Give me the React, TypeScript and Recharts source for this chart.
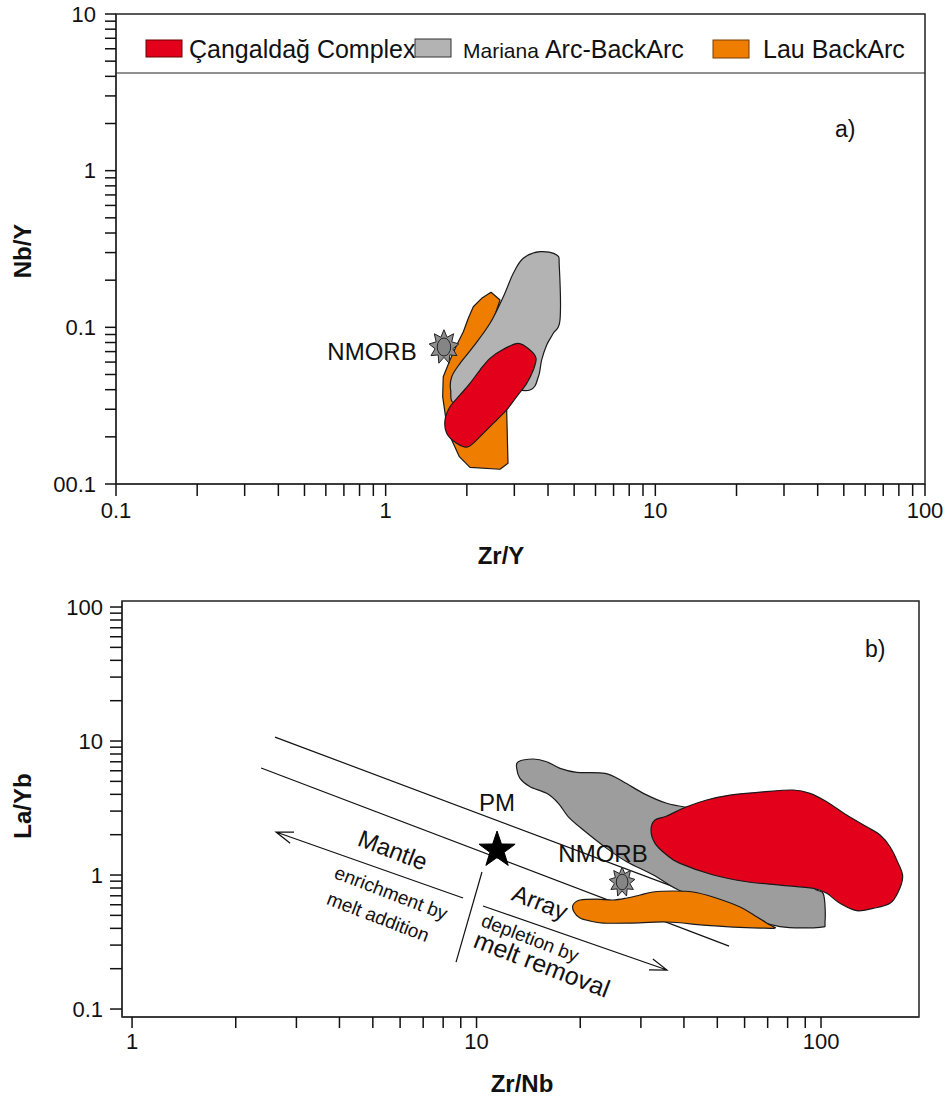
import React from 'react';
import { ComposedChart, Scatter, XAxis, YAxis, ReferenceLine, ReferenceArea } from 'recharts';

const FONT = '"Liberation Sans", Arial, Helvetica, sans-serif';

// ---------- legend / series ----------
const seriesNames = ['Çangaldağ Complex', 'Mariana Arc-BackArc', 'Lau BackArc'];
const fillA = ['#e2001a', '#b3b3b4', '#ef7d00'];
const fillB = ['#e2001a', '#9d9d9e', '#ef7d00'];

// ---------- panel a axes ----------
const aXDomain = [0.1, 100];
const aYDomain = [0.01, 10];
const aXTicks = [0.1, 0.2, 0.3, 0.4, 0.5, 0.6, 0.7, 0.8, 0.9, 1, 2, 3, 4, 5, 6, 7, 8, 9, 10, 20, 30, 40, 50, 60, 70, 80, 90, 100];
const aXMajor = [0.1, 1, 10, 100];
const aXLabels = ['0.1', '1', '10', '100'];
const aYTicks = [0.01, 0.02, 0.03, 0.04, 0.05, 0.06, 0.07, 0.08, 0.09, 0.1, 0.2, 0.3, 0.4, 0.5, 0.6, 0.7, 0.8, 0.9, 1, 2, 3, 4, 5, 6, 7, 8, 9, 10];
const aYMajor = [0.01, 0.1, 1, 10];
const aYLabels = ['00.1', '0.1', '1', '10'];
const legendDividerY = 4.2;

// ---------- panel a fields (Zr/Y, Nb/Y) ----------
const lauA: [number, number][] = [
  [2.459, 0.1674], [2.655, 0.1494], [2.369, 0.083], [2.81, 0.02968], [2.842, 0.01355], [2.655, 0.01242],
  [2.054, 0.01278], [1.876, 0.01494], [1.758, 0.0191], [1.674, 0.02563], [1.627, 0.0361], [1.635, 0.0484],
  [1.732, 0.0619], [1.834, 0.0771], [1.941, 0.0938], [2.025, 0.1142], [2.113, 0.1354], [2.27, 0.1532],
];
const marianaA: [number, number][] = [
  [3.736, 0.304], [4.307, 0.2895], [4.405, 0.2438], [4.431, 0.1114], [4.183, 0.0916], [3.955, 0.0771],
  [3.789, 0.0619], [3.683, 0.0484], [3.429, 0.0398], [2.655, 0.0398], [1.834, 0.0327], [1.742, 0.0398],
  [1.758, 0.0484], [1.887, 0.0589], [2.113, 0.0752], [2.437, 0.1061], [2.731, 0.1569], [2.974, 0.2213],
  [3.238, 0.2759],
];
const cangA: [number, number][] = [
  [3.103, 0.0791], [3.429, 0.0717], [3.611, 0.0634], [3.527, 0.0534], [3.334, 0.0439], [3.061, 0.0361],
  [2.81, 0.02968], [2.581, 0.02563], [2.302, 0.02107], [2.025, 0.0173], [1.834, 0.01819], [1.684, 0.02107],
  [1.66, 0.02563], [1.732, 0.0311], [1.887, 0.037], [2.054, 0.0439], [2.237, 0.0534], [2.437, 0.0634],
  [2.731, 0.0724],
];
const nmorbA = [{ x: 1.645, y: 0.0749 }];
const annotA = [{ text: 'NMORB', x: 0.89, y: 0.0696 }];

// ---------- panel b axes ----------
const bXDomain = [0.935, 192.5];
const bYDomain = [0.0872, 110.9];
const bXTicks = [1, 2, 3, 4, 5, 6, 7, 8, 9, 10, 20, 30, 40, 50, 60, 70, 80, 90, 100];
const bXMajor = [1, 10, 100];
const bXLabels = ['1', '10', '100'];
const bYTicks = [0.1, 0.2, 0.3, 0.4, 0.5, 0.6, 0.7, 0.8, 0.9, 1, 2, 3, 4, 5, 6, 7, 8, 9, 10, 20, 30, 40, 50, 60, 70, 80, 90, 100];
const bYMajor = [0.1, 1, 10, 100];
const bYLabels = ['0.1', '1', '10', '100'];

// ---------- panel b fields (Zr/Nb, La/Yb) ----------
const marianaB: [number, number][] = [
  [13.22, 7.01], [14.62, 7.34], [15.98, 7.01], [17.47, 6.25], [19.54, 5.84], [23.61, 5.74], [26.68, 4.97],
  [30.5, 4.07], [35.66, 3.43], [42.59, 3.14], [60.84, 2.72], [85.03, 1.537], [95.0, 0.818], [101.6, 0.721],
  [102.7, 0.448], [99.3, 0.407], [76.0, 0.412], [60.84, 0.489], [48.69, 0.651], [38.97, 0.764], [32.61, 1.0],
  [27.29, 1.257], [23.88, 1.581], [20.42, 2.167], [18.47, 2.72], [17.28, 3.43], [15.98, 4.07], [14.3, 4.56],
  [13.37, 5.27], [13.08, 6.25],
];
const lauB: [number, number][] = [
  [19.06, 0.597], [19.97, 0.651], [22.38, 0.662], [24.9, 0.651], [27.35, 0.674], [29.83, 0.709], [32.54, 0.747],
  [37.19, 0.76], [42.5, 0.747], [48.59, 0.685], [58.21, 0.577], [65.21, 0.486], [71.12, 0.423], [73.5, 0.402],
  [66.5, 0.402], [55.54, 0.409], [45.45, 0.423], [35.73, 0.446], [27.9, 0.438], [23.29, 0.438], [21.35, 0.454],
  [19.97, 0.478], [19.19, 0.53],
];
const cangB: [number, number][] = [
  [32.1, 2.167], [32.97, 2.573], [35.66, 2.756], [40.74, 3.23], [46.58, 3.63], [54.42, 3.95], [68.0, 4.18],
  [83.1, 4.31], [92.9, 4.07], [103.9, 3.52], [118.7, 2.8], [135.7, 2.29], [148.4, 1.99], [158.6, 1.627],
  [167.6, 1.222], [172.6, 0.972], [167.6, 0.751], [158.6, 0.615], [141.8, 0.564], [126.9, 0.542], [113.5, 0.615],
  [103.9, 0.73], [95.0, 0.796], [76.0, 0.842], [60.84, 0.891], [48.69, 1.0], [38.97, 1.222], [35.66, 1.41],
  [32.97, 1.723],
];
const mantleUpper: [number, number][] = [[2.6, 10.7], [44.5, 0.69]];
const mantleLower: [number, number][] = [[2.37, 6.29], [54.1, 0.295]];
const dividerLine: [number, number][] = [[10.37, 1.053], [8.72, 0.224]];
const arrowEnrich: [number, number][] = [[9.14, 0.674], [2.618, 2.094]];
const arrowDeplete: [number, number][] = [[10.44, 0.587], [35.73, 0.1954]];
const pmB = [{ x: 11.47, y: 1.59 }];
const nmorbB = [{ x: 26.46, y: 0.887 }];
const annotB = [
  { text: 'PM', x: 11.47, y: 3.45 },
  { text: 'NMORB', x: 23.29, y: 1.46 },
  { text: 'Mantle', x: 5.72, y: 1.537 },
  { text: 'Array', x: 15.29, y: 0.629 },
  { text: 'enrichment by', x: 5.65, y: 0.734 },
  { text: 'melt addition', x: 5.18, y: 0.486 },
  { text: 'depletion by', x: 14.3, y: 0.339 },
  { text: 'melt removal', x: 15.49, y: 0.217 },
];
const annotStyle: Record<string, { size: number; rot: number }> = {
  PM: { size: 24, rot: 0 },
  NMORB: { size: 24, rot: 0 },
  Mantle: { size: 24, rot: 21 },
  Array: { size: 24, rot: 21 },
  'enrichment by': { size: 19, rot: 21 },
  'melt addition': { size: 19, rot: 21 },
  'depletion by': { size: 19, rot: 21 },
  'melt removal': { size: 25, rot: 21 },
};

// ---------- helpers ----------
const toPts = (arr: [number, number][]) => arr.map(([x, y]) => ({ x, y }));

function closedSpline(pts: { x: number; y: number }[]) {
  const n = pts.length;
  let d = `M${pts[0].x},${pts[0].y}`;
  for (let i = 0; i < n; i++) {
    const p0 = pts[(i - 1 + n) % n];
    const p1 = pts[i];
    const p2 = pts[(i + 1) % n];
    const p3 = pts[(i + 2) % n];
    const c1x = p1.x + (p2.x - p0.x) / 6;
    const c1y = p1.y + (p2.y - p0.y) / 6;
    const c2x = p2.x - (p3.x - p1.x) / 6;
    const c2y = p2.y - (p3.y - p1.y) / 6;
    d += `C${c1x},${c1y} ${c2x},${c2y} ${p2.x},${p2.y}`;
  }
  return d + 'Z';
}

const polyLine = (fill: string, smooth: boolean) => (props: any) => {
  const pts = (props.points || []).filter((p: any) => p && isFinite(p.x) && isFinite(p.y));
  if (pts.length < 3) return <g />;
  const d = smooth ? closedSpline(pts) : 'M' + pts.map((p: any) => `${p.x},${p.y}`).join('L') + 'Z';
  return <path d={d} fill={fill} stroke="#1a1a1a" strokeWidth={1.2} strokeLinejoin="round" />;
};

const plainLine = (props: any) => {
  const pts = props.points || [];
  if (pts.length < 2) return <g />;
  return <path d={`M${pts[0].x},${pts[0].y}L${pts[1].x},${pts[1].y}`} stroke="#111" strokeWidth={1.2} fill="none" />;
};

const arrowLine = (props: any) => {
  const pts = props.points || [];
  if (pts.length < 2) return <g />;
  const a = pts[0];
  const b = pts[1];
  const ang = Math.atan2(b.y - a.y, b.x - a.x);
  const L = 18;
  const s = 0.33;
  const h1x = b.x - L * Math.cos(ang - s);
  const h1y = b.y - L * Math.sin(ang - s);
  const h2x = b.x - L * Math.cos(ang + s);
  const h2y = b.y - L * Math.sin(ang + s);
  return (
    <path
      d={`M${a.x},${a.y}L${b.x},${b.y}M${h1x},${h1y}L${b.x},${b.y}L${h2x},${h2y}`}
      stroke="#111"
      strokeWidth={1.2}
      fill="none"
    />
  );
};

const noShape = () => <g />;

function starPts(cx: number, cy: number, n: number, ro: number, ri: number, sy = 1) {
  const out: string[] = [];
  for (let i = 0; i < 2 * n; i++) {
    const r = i % 2 === 0 ? ro : ri;
    const a = -Math.PI / 2 + (i * Math.PI) / n;
    out.push(`${cx + r * Math.cos(a)},${cy + r * Math.sin(a) * sy}`);
  }
  return out.join(' ');
}

const nmorbShape = (ro: number) => (p: any) => {
  const { cx, cy } = p;
  if (!isFinite(cx) || !isFinite(cy)) return <g />;
  return (
    <g>
      <polygon points={starPts(cx, cy, 9, ro, ro * 0.6, 1.15)} fill="#8f8f8f" stroke="#222" strokeWidth={1} />
      <ellipse cx={cx} cy={cy} rx={ro * 0.45} ry={ro * 0.6} fill="#858585" stroke="#222" strokeWidth={1} />
    </g>
  );
};

const pmShape = (p: any) => {
  const { cx, cy } = p;
  if (!isFinite(cx) || !isFinite(cy)) return <g />;
  return <polygon points={starPts(cx, cy + 2, 5, 19, 7.5)} fill="#000" stroke="#000" strokeWidth={1} />;
};

const textShape = (p: any) => {
  const { cx, cy, payload } = p;
  if (!isFinite(cx) || !isFinite(cy)) return <g />;
  const st = annotStyle[payload.text] || { size: 24, rot: 0 };
  return (
    <text
      x={cx}
      y={cy}
      textAnchor="middle"
      dominantBaseline="central"
      fontSize={st.size}
      fontFamily={FONT}
      fill="#111"
      transform={st.rot ? `rotate(${st.rot},${cx},${cy})` : undefined}
    >
      {payload.text}
    </text>
  );
};

const isMajor = (major: number[], v: number) => major.findIndex((m) => Math.abs(m - v) / m < 1e-6);

const makeXTick = (major: number[], labels: string[]) => (props: any) => {
  const { x, y, payload } = props;
  const i = isMajor(major, payload.value);
  if (i < 0) return <g />;
  return (
    <text x={x} y={y} dy="0.71em" textAnchor="middle" fontSize={22} fontFamily={FONT} fill="#111">
      {labels[i]}
    </text>
  );
};

const makeYTick = (major: number[], labels: string[]) => (props: any) => {
  const { x, y, payload } = props;
  const i = isMajor(major, payload.value);
  if (i < 0) return <g />;
  return (
    <text x={x} y={y} dy="0.355em" textAnchor="end" fontSize={22} fontFamily={FONT} fill="#111">
      {labels[i]}
    </text>
  );
};

const axisStyle = { stroke: '#333', strokeWidth: 1.5 };
const tickStyle = { stroke: '#111', strokeWidth: 1.5 };

export default function App() {
  return (
    <div style={{ position: 'absolute', left: 0, top: 0, width: 949, height: 1097, background: '#fff', fontFamily: FONT }}>
      <div style={{ position: 'absolute', left: 0, top: 0 }}>
        <ComposedChart width={949} height={560} margin={{ top: 14, right: 24, bottom: 36, left: 0 }}>
          <XAxis
            type="number"
            dataKey="x"
            scale="log"
            domain={aXDomain}
            allowDataOverflow
            ticks={aXTicks}
            interval={0}
            tick={makeXTick(aXMajor, aXLabels)}
            tickSize={12}
            tickMargin={6}
            height={40}
            axisLine={axisStyle}
            tickLine={tickStyle}
          />
          <YAxis
            type="number"
            dataKey="y"
            scale="log"
            domain={aYDomain}
            allowDataOverflow
            ticks={aYTicks}
            interval={0}
            tick={makeYTick(aYMajor, aYLabels)}
            tickSize={11}
            tickMargin={9}
            width={116}
            axisLine={axisStyle}
            tickLine={tickStyle}
          />
          <ReferenceArea x1={aXDomain[0]} x2={aXDomain[1]} y1={aYDomain[0]} y2={aYDomain[1]} fill="none" stroke="#222" strokeWidth={1.5} ifOverflow="visible" />
          <ReferenceLine y={legendDividerY} stroke="#222" strokeWidth={1.2} />
          <Scatter data={toPts(lauA)} line={polyLine(fillA[2], false)} shape={noShape} isAnimationActive={false} />
          <Scatter data={toPts(marianaA)} line={polyLine(fillA[1], true)} shape={noShape} isAnimationActive={false} />
          <Scatter data={toPts(cangA)} line={polyLine(fillA[0], true)} shape={noShape} isAnimationActive={false} />
          <Scatter data={nmorbA} shape={nmorbShape(15)} isAnimationActive={false} />
          <Scatter data={annotA} shape={textShape} isAnimationActive={false} />
        </ComposedChart>
      </div>

      <div style={{ position: 'absolute', left: 0, top: 560 }}>
        <ComposedChart width={949} height={537} margin={{ top: 41, right: 30, bottom: 40, left: 0 }}>
          <XAxis
            type="number"
            dataKey="x"
            scale="log"
            domain={bXDomain}
            allowDataOverflow
            ticks={bXTicks}
            interval={0}
            tick={makeXTick(bXMajor, bXLabels)}
            tickSize={11}
            tickMargin={5}
            height={40}
            axisLine={axisStyle}
            tickLine={tickStyle}
          />
          <YAxis
            type="number"
            dataKey="y"
            scale="log"
            domain={bYDomain}
            allowDataOverflow
            ticks={bYTicks}
            interval={0}
            tick={makeYTick(bYMajor, bYLabels)}
            tickSize={12}
            tickMargin={7}
            width={122}
            axisLine={axisStyle}
            tickLine={tickStyle}
          />
          <ReferenceArea x1={bXDomain[0]} x2={bXDomain[1]} y1={bYDomain[0]} y2={bYDomain[1]} fill="none" stroke="#222" strokeWidth={1.5} ifOverflow="visible" />
          <Scatter data={toPts(mantleUpper)} line={plainLine} shape={noShape} isAnimationActive={false} />
          <Scatter data={toPts(mantleLower)} line={plainLine} shape={noShape} isAnimationActive={false} />
          <Scatter data={toPts(dividerLine)} line={plainLine} shape={noShape} isAnimationActive={false} />
          <Scatter data={toPts(arrowEnrich)} line={arrowLine} shape={noShape} isAnimationActive={false} />
          <Scatter data={toPts(arrowDeplete)} line={arrowLine} shape={noShape} isAnimationActive={false} />
          <Scatter data={toPts(marianaB)} line={polyLine(fillB[1], true)} shape={noShape} isAnimationActive={false} />
          <Scatter data={toPts(lauB)} line={polyLine(fillB[2], true)} shape={noShape} isAnimationActive={false} />
          <Scatter data={toPts(cangB)} line={polyLine(fillB[0], true)} shape={noShape} isAnimationActive={false} />
          <Scatter data={annotB} shape={textShape} isAnimationActive={false} />
          <Scatter data={pmB} shape={pmShape} isAnimationActive={false} />
          <Scatter data={nmorbB} shape={nmorbShape(13)} isAnimationActive={false} />
        </ComposedChart>
      </div>

      <svg width={949} height={1097} style={{ position: 'absolute', left: 0, top: 0, pointerEvents: 'none' }}>
        {/* legend */}
        <rect x={146} y={40} width={36} height={17} fill={fillA[0]} stroke="#6b0000" strokeWidth={1} />
        <text x={189} y={57.5} fontSize={25} fontFamily={FONT} fill="#111">{seriesNames[0]}</text>
        <rect x={415} y={39} width={36} height={18} fill={fillA[1]} stroke="#333" strokeWidth={1} />
        <text x={463} y={57.5} fontFamily={FONT} fill="#111">
          <tspan fontSize={21}>{seriesNames[1].split(' ')[0]}</tspan>
          <tspan fontSize={25} dx={6}>{seriesNames[1].split(' ').slice(1).join(' ')}</tspan>
        </text>
        <rect x={713} y={40} width={36} height={18} fill={fillA[2]} stroke="#7a3c00" strokeWidth={1} />
        <text x={763} y={57.5} fontSize={25} fontFamily={FONT} fill="#111">{seriesNames[2]}</text>

        {/* panel letters */}
        <text x={835} y={137} fontSize={23} fontFamily={FONT} fill="#111">a)</text>
        <text x={865} y={657} fontSize={23} fontFamily={FONT} fill="#111">b)</text>

        {/* axis titles */}
        <text x={22} y={251} fontSize={24} fontWeight="bold" fontFamily={FONT} fill="#111" textAnchor="middle" dominantBaseline="central" transform="rotate(-90,22,251)">Nb/Y</text>
        <text x={501} y={555} fontSize={24} fontWeight="bold" fontFamily={FONT} fill="#111" textAnchor="middle" dominantBaseline="central">Zr/Y</text>
        <text x={22} y={806} fontSize={24} fontWeight="bold" fontFamily={FONT} fill="#111" textAnchor="middle" dominantBaseline="central" transform="rotate(-90,22,806)">La/Yb</text>
        <text x={522} y={1083} fontSize={24} fontWeight="bold" fontFamily={FONT} fill="#111" textAnchor="middle" dominantBaseline="central">Zr/Nb</text>
      </svg>
    </div>
  );
}
